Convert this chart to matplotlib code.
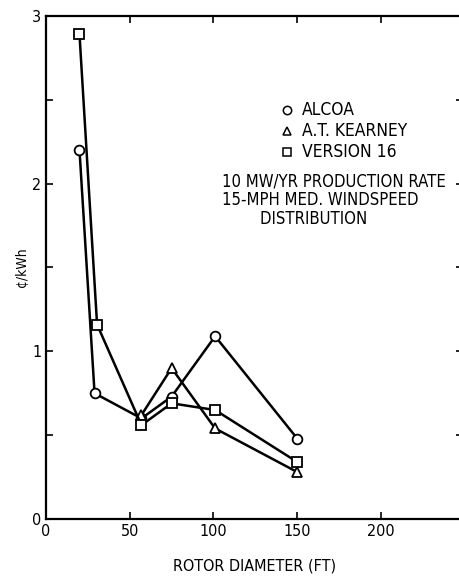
import numpy as np
import matplotlib.pyplot as plt

# rotor diameter (ft) vs cost (cents/kWh)
alcoa_x = [20, 29, 57, 75, 101, 150]
alcoa_y = [2.2, 0.75, 0.6, 0.73, 1.09, 0.48]
kearney_x = [57, 75, 101, 150]
kearney_y = [0.62, 0.9, 0.54, 0.28]
v16_x = [20, 30.5, 57, 75, 101, 150]
v16_y = [2.89, 1.16, 0.56, 0.69, 0.65, 0.34]

legend_labels = ['ALCOA', 'A.T. KEARNEY', 'VERSION 16']
note = '10 MW/YR PRODUCTION RATE\n15-MPH MED. WINDSPEED\n        DISTRIBUTION'

plt.rcParams['font.family'] = 'DejaVu Sans'
plt.rcParams['font.stretch'] = 'condensed'

fig = plt.figure(figsize=(4.6, 5.79), dpi=100)
ax = fig.add_axes([0.1, 0.1036, 0.9065, 0.8688])

kw = dict(color='black', lw=1.8, mfc='white', mec='black', mew=1.3, ms=7, clip_on=False)
ax.plot(alcoa_x, alcoa_y, marker='o', **kw)
ax.plot(kearney_x, kearney_y, marker='^', **kw)
ax.plot(v16_x, v16_y, marker='s', **kw)

ax.set_xlim(0, 249)
ax.set_ylim(0, 3)
ax.set_xticks([0, 50, 100, 150, 200])
ax.set_yticks([0, 1, 2, 3])
ax.set_yticks([0.5, 1.5, 2.5], minor=True)
ax.tick_params(direction='in', length=5, width=1.2, top=True, right=True, labelsize=11.5)
ax.tick_params(which='minor', direction='in', length=5, width=1.2, right=True)
for s in ax.spines.values():
    s.set_linewidth(1.6)

ax.set_xlabel('ROTOR DIAMETER (FT)', fontsize=11.5, labelpad=14)
ax.set_ylabel('¢/kWh', fontsize=10, labelpad=2)

# legend drawn as text block
mk = ['o', '^', 's']
for i, lab in enumerate(legend_labels):
    yy = 2.44 - i * 0.125
    ax.plot([144], [yy], marker=mk[i], ms=6, mfc='white', mec='black', mew=1.1, ls='none')
    ax.text(153, yy, lab, fontsize=12.5, va='center', ha='left')
ax.text(105, 2.065, note, fontsize=12, va='top', ha='left', linespacing=1.05)

fig.savefig('out.png', dpi=100)
